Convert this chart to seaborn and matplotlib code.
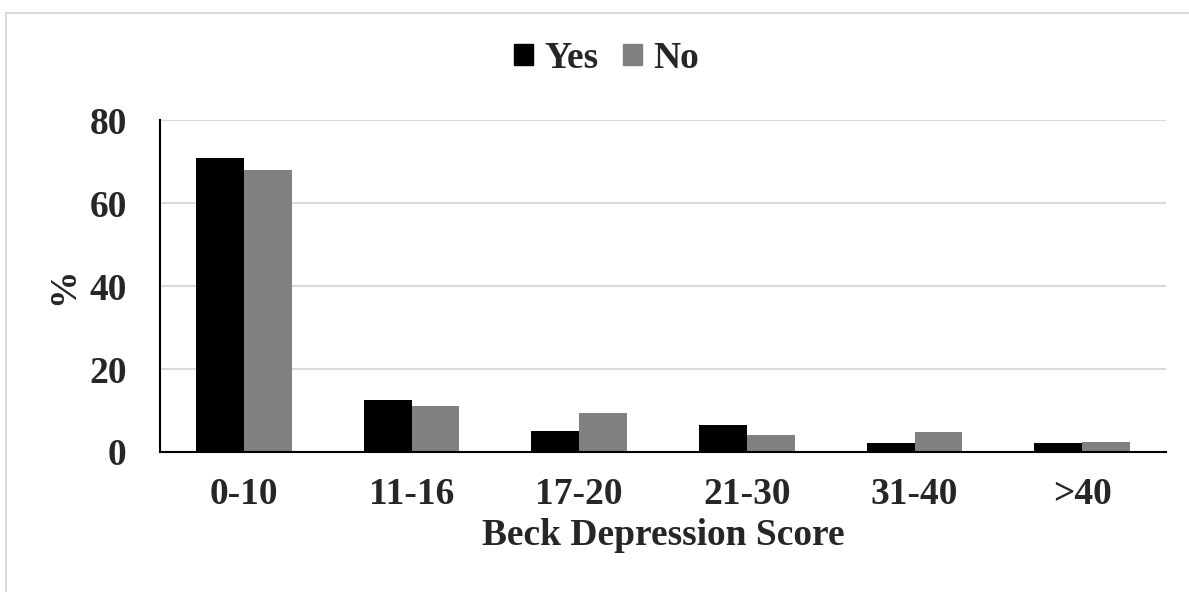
import pandas as pd
import matplotlib.pyplot as plt
import matplotlib.patches as mpatches
import seaborn as sns

# Beck Depression Score distribution (%)
categories = ["0-10", "11-16", "17-20", "21-30", "31-40", ">40"]
yes_pct = [71, 12.5, 5, 6.6, 2.1, 2.1]
no_pct = [68, 11.1, 9.5, 4, 4.7, 2.3]

df = pd.DataFrame({
    "score": categories * 2,
    "pct": yes_pct + no_pct,
    "group": ["Yes"] * len(categories) + ["No"] * len(categories),
})

sns.set_style("white")
plt.rcParams['font.family'] = ['Liberation Serif', 'DejaVu Serif']
plt.rcParams['font.weight'] = 'bold'

FS = 27

fig = plt.figure(figsize=(11.89, 5.92), dpi=100)
ax = fig.add_axes([0.1346, 0.2365, 0.9807 - 0.1346, 0.797 - 0.2365])

sns.barplot(
    data=df, x="score", y="pct", hue="group",
    palette={"Yes": "black", "No": "#808080"},
    width=0.57, saturation=1, edgecolor="none", ax=ax,
)

ax.set_ylim(0, 80)
ax.set_yticks([0, 20, 40, 60, 80])
ax.set_xlim(-0.5, 5.5)
ax.yaxis.grid(True, color="#d9d9d9", linewidth=1.5)
ax.set_axisbelow(True)
for s in ["top", "right"]:
    ax.spines[s].set_visible(False)
ax.spines["left"].set_color("black")
ax.spines["bottom"].set_color("black")
ax.spines["left"].set_linewidth(1.5)
ax.spines["bottom"].set_linewidth(1.5)
ax.tick_params(axis="both", length=0, labelsize=FS)
ax.tick_params(axis="y", pad=24)
ax.tick_params(axis="x", pad=18)
for lbl in ax.get_xticklabels() + ax.get_yticklabels():
    lbl.set_fontweight("bold")

ax.set_xlabel("Beck Depression Score", fontsize=FS, fontweight="bold", labelpad=4)
ax.set_ylabel("%", fontsize=FS, fontweight="bold", labelpad=6)

ax.legend_.remove()
handles = [mpatches.Patch(color="black", label="Yes"),
           mpatches.Patch(color="#808080", label="No")]
fig.legend(handles=handles, loc="center", bbox_to_anchor=(0.51, 0.902),
           ncol=2, frameon=False, prop={"size": FS, "weight": "bold"},
           handlelength=0.5, handleheight=0.5, handletextpad=0.3,
           columnspacing=0.65)

# light grey frame (only top and left edges fall inside the image)
fig.patches.append(mpatches.Rectangle(
    (6 / 1189, -10 / 592), 1.1, (592 - 12.5 + 10) / 592,
    transform=fig.transFigure, fill=False, edgecolor="#d9d9d9",
    linewidth=1.5, clip_on=False))

fig.savefig("out.png", dpi=100)
